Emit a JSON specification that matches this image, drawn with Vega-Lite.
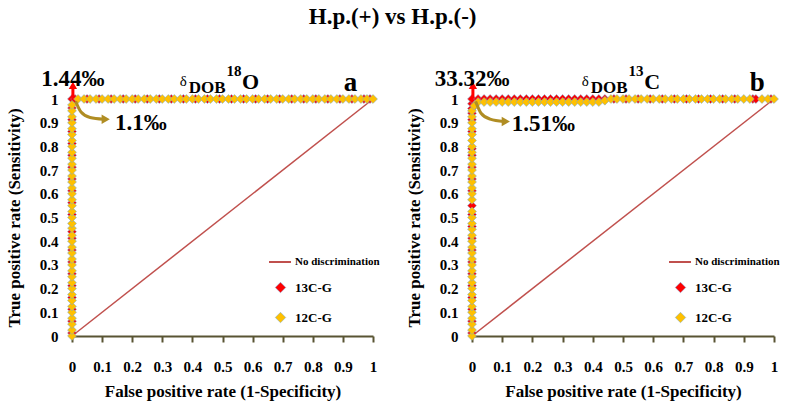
{
  "$schema": "https://vega.github.io/schema/vega-lite/v6.json",
  "padding": {"left": 5, "top": 6, "right": 2, "bottom": 3},
  "title": {"text": "H.p.(+) vs H.p.(-)", "fontSize": 23, "font": "Liberation Serif", "fontWeight": "bold", "color": "#000", "anchor": "middle", "offset": 35},
  "config": {
    "font": "Liberation Serif",
    "view": {"stroke": null},
    "axis": {"grid": false, "labelFont": "Liberation Serif", "labelFontWeight": "bold", "labelFontSize": 15, "labelColor": "#000", "titleFont": "Liberation Serif", "titleFontWeight": "bold", "titleFontSize": 17, "titleColor": "#000", "labelFlush": false, "labelOverlap": false},
    "legend": {"labelFont": "Liberation Serif", "labelFontWeight": "bold", "labelFontSize": 13, "labelColor": "#000"}
  },
  "datasets": {
    "a13": [{"x":0,"y":0.0125},{"x":0,"y":0.0625},{"x":0,"y":0.1125},{"x":0,"y":0.1625},{"x":0,"y":0.2125},{"x":0,"y":0.2625},{"x":0,"y":0.3125},{"x":0,"y":0.3625},{"x":0,"y":0.4125},{"x":0,"y":0.44},{"x":0,"y":0.5125},{"x":0,"y":0.5625},{"x":0,"y":0.6125},{"x":0,"y":0.6625},{"x":0,"y":0.7125},{"x":0,"y":0.7625},{"x":0,"y":0.8125},{"x":0,"y":0.8625},{"x":0,"y":0.9125},{"x":0,"y":0.9625},{"x":0,"y":1},{"x":0.01,"y":1},{"x":0.05,"y":1},{"x":0.09,"y":1},{"x":0.13,"y":1},{"x":0.17,"y":1},{"x":0.21,"y":1},{"x":0.25,"y":1},{"x":0.29,"y":1},{"x":0.33,"y":1},{"x":0.37,"y":1},{"x":0.41,"y":1},{"x":0.45,"y":1},{"x":0.49,"y":1},{"x":0.53,"y":1},{"x":0.57,"y":1},{"x":0.61,"y":1},{"x":0.65,"y":1},{"x":0.69,"y":1},{"x":0.73,"y":1},{"x":0.77,"y":1},{"x":0.81,"y":1},{"x":0.85,"y":1},{"x":0.89,"y":1},{"x":0.93,"y":1},{"x":0.97,"y":1},{"x":0.99,"y":1}],
    "a12": [{"x":0,"y":0},{"x":0,"y":0.025},{"x":0,"y":0.05},{"x":0,"y":0.075},{"x":0,"y":0.1},{"x":0,"y":0.125},{"x":0,"y":0.15},{"x":0,"y":0.175},{"x":0,"y":0.2},{"x":0,"y":0.225},{"x":0,"y":0.25},{"x":0,"y":0.275},{"x":0,"y":0.3},{"x":0,"y":0.325},{"x":0,"y":0.35},{"x":0,"y":0.375},{"x":0,"y":0.4},{"x":0,"y":0.425},{"x":0,"y":0.455},{"x":0,"y":0.475},{"x":0,"y":0.5},{"x":0,"y":0.525},{"x":0,"y":0.55},{"x":0,"y":0.575},{"x":0,"y":0.6},{"x":0,"y":0.625},{"x":0,"y":0.65},{"x":0,"y":0.675},{"x":0,"y":0.7},{"x":0,"y":0.725},{"x":0,"y":0.75},{"x":0,"y":0.775},{"x":0,"y":0.8},{"x":0,"y":0.825},{"x":0,"y":0.85},{"x":0,"y":0.875},{"x":0,"y":0.9},{"x":0,"y":0.925},{"x":0,"y":0.95},{"x":0,"y":0.975},{"x":0.02,"y":1},{"x":0.04,"y":1},{"x":0.06,"y":1},{"x":0.08,"y":1},{"x":0.1,"y":1},{"x":0.12,"y":1},{"x":0.14,"y":1},{"x":0.16,"y":1},{"x":0.18,"y":1},{"x":0.2,"y":1},{"x":0.22,"y":1},{"x":0.24,"y":1},{"x":0.26,"y":1},{"x":0.28,"y":1},{"x":0.3,"y":1},{"x":0.32,"y":1},{"x":0.34,"y":1},{"x":0.36,"y":1},{"x":0.38,"y":1},{"x":0.4,"y":1},{"x":0.42,"y":1},{"x":0.44,"y":1},{"x":0.46,"y":1},{"x":0.48,"y":1},{"x":0.5,"y":1},{"x":0.52,"y":1},{"x":0.54,"y":1},{"x":0.56,"y":1},{"x":0.58,"y":1},{"x":0.6,"y":1},{"x":0.62,"y":1},{"x":0.64,"y":1},{"x":0.66,"y":1},{"x":0.68,"y":1},{"x":0.7,"y":1},{"x":0.72,"y":1},{"x":0.74,"y":1},{"x":0.76,"y":1},{"x":0.78,"y":1},{"x":0.8,"y":1},{"x":0.82,"y":1},{"x":0.84,"y":1},{"x":0.86,"y":1},{"x":0.88,"y":1},{"x":0.9,"y":1},{"x":0.92,"y":1},{"x":0.94,"y":1},{"x":0.96,"y":1},{"x":0.98,"y":1},{"x":1,"y":1}],
    "b13": [{"x":0,"y":0.0125},{"x":0,"y":0.0625},{"x":0,"y":0.1125},{"x":0,"y":0.1625},{"x":0,"y":0.2125},{"x":0,"y":0.2625},{"x":0,"y":0.3125},{"x":0,"y":0.3625},{"x":0,"y":0.4125},{"x":0,"y":0.4625},{"x":0,"y":0.5125},{"x":0,"y":0.55},{"x":0,"y":0.6125},{"x":0,"y":0.6625},{"x":0,"y":0.7125},{"x":0,"y":0.7625},{"x":0,"y":0.79},{"x":0,"y":0.8625},{"x":0,"y":0.9125},{"x":0,"y":0.94},{"x":0,"y":0.96},{"x":0,"y":0.98},{"x":0,"y":1},{"x":0.02,"y":1},{"x":0.04,"y":1},{"x":0.06,"y":1},{"x":0.08,"y":1},{"x":0.1,"y":1},{"x":0.12,"y":1},{"x":0.14,"y":1},{"x":0.16,"y":1},{"x":0.18,"y":1},{"x":0.2,"y":1},{"x":0.22,"y":1},{"x":0.24,"y":1},{"x":0.26,"y":1},{"x":0.28,"y":1},{"x":0.3,"y":1},{"x":0.32,"y":1},{"x":0.34,"y":1},{"x":0.36,"y":1},{"x":0.38,"y":1},{"x":0.4,"y":1},{"x":0.42,"y":1},{"x":0.44,"y":1},{"x":0.47,"y":1},{"x":0.51,"y":1},{"x":0.55,"y":1},{"x":0.59,"y":1},{"x":0.63,"y":1},{"x":0.67,"y":1},{"x":0.71,"y":1},{"x":0.75,"y":1},{"x":0.79,"y":1},{"x":0.83,"y":1},{"x":0.87,"y":1},{"x":0.93,"y":1},{"x":0.94,"y":1},{"x":0.99,"y":1}],
    "b12": [{"x":0,"y":0},{"x":0,"y":0.025},{"x":0,"y":0.05},{"x":0,"y":0.075},{"x":0,"y":0.1},{"x":0,"y":0.125},{"x":0,"y":0.15},{"x":0,"y":0.175},{"x":0,"y":0.2},{"x":0,"y":0.225},{"x":0,"y":0.25},{"x":0,"y":0.275},{"x":0,"y":0.3},{"x":0,"y":0.325},{"x":0,"y":0.35},{"x":0,"y":0.375},{"x":0,"y":0.4},{"x":0,"y":0.425},{"x":0,"y":0.45},{"x":0,"y":0.475},{"x":0,"y":0.5},{"x":0,"y":0.525},{"x":0,"y":0.575},{"x":0,"y":0.6},{"x":0,"y":0.625},{"x":0,"y":0.65},{"x":0,"y":0.675},{"x":0,"y":0.7},{"x":0,"y":0.725},{"x":0,"y":0.75},{"x":0,"y":0.775},{"x":0,"y":0.8},{"x":0,"y":0.825},{"x":0,"y":0.85},{"x":0,"y":0.875},{"x":0,"y":0.9},{"x":0,"y":0.925},{"x":0,"y":0.95},{"x":0.008,"y":0.972},{"x":0.02,"y":0.987},{"x":0.04,"y":0.987},{"x":0.06,"y":0.987},{"x":0.08,"y":0.987},{"x":0.1,"y":0.987},{"x":0.12,"y":0.987},{"x":0.14,"y":0.987},{"x":0.16,"y":0.987},{"x":0.18,"y":0.987},{"x":0.2,"y":0.987},{"x":0.22,"y":0.987},{"x":0.24,"y":0.987},{"x":0.26,"y":0.987},{"x":0.28,"y":0.987},{"x":0.3,"y":0.987},{"x":0.32,"y":0.987},{"x":0.34,"y":0.987},{"x":0.36,"y":0.987},{"x":0.38,"y":0.987},{"x":0.4,"y":0.987},{"x":0.42,"y":0.987},{"x":0.44,"y":0.993},{"x":0.46,"y":1},{"x":0.48,"y":1},{"x":0.5,"y":1},{"x":0.52,"y":1},{"x":0.54,"y":1},{"x":0.56,"y":1},{"x":0.58,"y":1},{"x":0.6,"y":1},{"x":0.62,"y":1},{"x":0.64,"y":1},{"x":0.66,"y":1},{"x":0.68,"y":1},{"x":0.7,"y":1},{"x":0.72,"y":1},{"x":0.74,"y":1},{"x":0.76,"y":1},{"x":0.78,"y":1},{"x":0.8,"y":1},{"x":0.82,"y":1},{"x":0.84,"y":1},{"x":0.86,"y":1},{"x":0.88,"y":1},{"x":0.9,"y":1},{"x":0.92,"y":1},{"x":0.96,"y":1},{"x":0.98,"y":1},{"x":1,"y":1}]
  },
  "spacing": 25,
  "resolve": {"scale": {"x": "independent", "y": "independent", "stroke": "independent", "fill": "independent"}, "legend": {"stroke": "independent", "fill": "independent"}},
  "hconcat": [
    {
      "width": 301, "height": 237,
      "encoding": {
        "x": {"field": "x", "type": "quantitative", "scale": {"domain": [0, 1], "nice": false},
          "axis": {"title": "False positive rate (1-Specificity)", "values": [0,0.1,0.2,0.3,0.4,0.5,0.6,0.7,0.8,0.9,1], "format": ".1~f", "domainColor": "#595433", "domainWidth": 2, "tickColor": "#595433", "tickWidth": 2, "tickSize": 6, "labelPadding": 17, "titlePadding": 9}},
        "y": {"field": "y", "type": "quantitative", "scale": {"domain": [0, 1], "nice": false},
          "axis": {"title": "True positive rate (Sensitivity)", "values": [0,0.1,0.2,0.3,0.4,0.5,0.6,0.7,0.8,0.9,1], "format": ".1~f", "domainColor": "#595433", "ticks": false, "labelPadding": 14, "titlePadding": 16}}
      },
      "layer": [
        {"data": {"values": [{"x": 0, "y": 0}, {"x": 1, "y": 1}]}, "mark": {"type": "line", "strokeWidth": 1.5},
          "encoding": {"stroke": {"datum": "No discrimination", "type": "nominal", "scale": {"domain": ["No discrimination"], "range": ["#c0504d"]},
            "legend": {"orient": "none", "legendX": 196, "legendY": 151, "title": null, "symbolType": "stroke", "symbolSize": 484, "symbolStrokeWidth": 2, "labelOffset": 3, "labelFontSize": 11}}}},
        {"data": {"name": "a13"}, "mark": {"type": "point", "shape": "diamond", "filled": true, "size": 80, "stroke": "#6fa8dc", "strokeWidth": 0.5, "opacity": 1},
          "encoding": {"fill": {"datum": "13C-G", "type": "nominal", "scale": {"domain": ["13C-G", "12C-G"], "range": ["#ff0000", "#ffc000"]},
            "legend": {"orient": "none", "legendX": 202, "legendY": 182, "title": null, "symbolType": "diamond", "symbolSize": 110, "rowPadding": 16, "labelOffset": 8, "symbolStrokeColor": "#6fa8dc", "symbolStrokeWidth": 0.5}}}},
        {"data": {"name": "a12"}, "mark": {"type": "point", "shape": "diamond", "filled": true, "size": 80, "stroke": "#6fa8dc", "strokeWidth": 0.5, "opacity": 1},
          "encoding": {"fill": {"datum": "12C-G", "type": "nominal"}}},
        {"data": {"values": [{"x": 0.003, "y": 1.005, "y2": 1.05}]}, "mark": {"type": "rule", "color": "#ff0000", "strokeWidth": 3}, "encoding": {"y2": {"field": "y2"}}},
        {"data": {"values": [{"x": 0.003, "y": 1.058}]}, "mark": {"type": "point", "shape": "triangle-up", "filled": true, "size": 70, "color": "#ff0000", "opacity": 1}, "encoding": {}},
        {"data": {"values": [{"x": 0.012, "y": 0.99}, {"x": 0.03, "y": 0.945}, {"x": 0.06, "y": 0.922}, {"x": 0.105, "y": 0.915}]}, "mark": {"type": "line", "color": "#b08d23", "strokeWidth": 3, "interpolate": "monotone"}, "encoding": {}},
        {"data": {"values": [{"x": 0.112, "y": 0.915}]}, "mark": {"type": "point", "shape": "triangle-right", "filled": true, "size": 90, "color": "#b08d23", "opacity": 1}, "encoding": {}},
        {"data": {"values": [{"t": "1.1‰", "x": 0.143, "y": 0.9}]}, "mark": {"type": "text", "fontSize": 23, "fontWeight": "bold", "align": "left", "baseline": "middle", "color": "#000"}, "encoding": {"text": {"field": "t"}}},
        {"data": {"values": [{"t": "1.44‰", "x": 0.003, "y": 1.085}]}, "mark": {"type": "text", "fontSize": 23, "fontWeight": "bold", "align": "center", "baseline": "middle", "color": "#000"}, "encoding": {"text": {"field": "t"}}},
        {"data": {"values": [{"t": "δ", "x": 0.37, "y": 1.078}]}, "mark": {"type": "text", "fontSize": 15, "align": "center", "baseline": "middle", "color": "#000"}, "encoding": {"text": {"field": "t"}}},
        {"data": {"values": [{"t": "DOB", "x": 0.388, "y": 1.045}]}, "mark": {"type": "text", "fontSize": 17, "fontWeight": "bold", "align": "left", "baseline": "middle", "color": "#000"}, "encoding": {"text": {"field": "t"}}},
        {"data": {"values": [{"t": "18", "x": 0.513, "y": 1.118}]}, "mark": {"type": "text", "fontSize": 15, "fontWeight": "bold", "align": "left", "baseline": "middle", "color": "#000"}, "encoding": {"text": {"field": "t"}}},
        {"data": {"values": [{"t": "O", "x": 0.565, "y": 1.073}]}, "mark": {"type": "text", "fontSize": 22, "fontWeight": "bold", "align": "left", "baseline": "middle", "color": "#000"}, "encoding": {"text": {"field": "t"}}},
        {"data": {"values": [{"t": "a", "x": 0.925, "y": 1.068}]}, "mark": {"type": "text", "fontSize": 27, "fontWeight": "bold", "align": "center", "baseline": "middle", "color": "#000"}, "encoding": {"text": {"field": "t"}}}
      ]
    },
    {
      "width": 302, "height": 237,
      "encoding": {
        "x": {"field": "x", "type": "quantitative", "scale": {"domain": [0, 1], "nice": false},
          "axis": {"title": "False positive rate (1-Specificity)", "values": [0,0.1,0.2,0.3,0.4,0.5,0.6,0.7,0.8,0.9,1], "format": ".1~f", "domainColor": "#595433", "domainWidth": 2, "tickColor": "#595433", "tickWidth": 2, "tickSize": 6, "labelPadding": 17, "titlePadding": 9}},
        "y": {"field": "y", "type": "quantitative", "scale": {"domain": [0, 1], "nice": false},
          "axis": {"title": "True positive rate (Sensitivity)", "values": [0,0.1,0.2,0.3,0.4,0.5,0.6,0.7,0.8,0.9,1], "format": ".1~f", "domainColor": "#595433", "ticks": false, "labelPadding": 14, "titlePadding": 16}}
      },
      "layer": [
        {"data": {"values": [{"x": 0, "y": 0}, {"x": 1, "y": 1}]}, "mark": {"type": "line", "strokeWidth": 1.5},
          "encoding": {"stroke": {"datum": "No discrimination", "type": "nominal", "scale": {"domain": ["No discrimination"], "range": ["#c0504d"]},
            "legend": {"orient": "none", "legendX": 196, "legendY": 151, "title": null, "symbolType": "stroke", "symbolSize": 484, "symbolStrokeWidth": 2, "labelOffset": 3, "labelFontSize": 11}}}},
        {"data": {"name": "b13"}, "mark": {"type": "point", "shape": "diamond", "filled": true, "size": 80, "stroke": "#6fa8dc", "strokeWidth": 0.5, "opacity": 1},
          "encoding": {"fill": {"datum": "13C-G", "type": "nominal", "scale": {"domain": ["13C-G", "12C-G"], "range": ["#ff0000", "#ffc000"]},
            "legend": {"orient": "none", "legendX": 202, "legendY": 182, "title": null, "symbolType": "diamond", "symbolSize": 110, "rowPadding": 16, "labelOffset": 8, "symbolStrokeColor": "#6fa8dc", "symbolStrokeWidth": 0.5}}}},
        {"data": {"name": "b12"}, "mark": {"type": "point", "shape": "diamond", "filled": true, "size": 80, "stroke": "#6fa8dc", "strokeWidth": 0.5, "opacity": 1},
          "encoding": {"fill": {"datum": "12C-G", "type": "nominal"}}},
        {"data": {"values": [{"x": 0.003, "y": 1.005, "y2": 1.05}]}, "mark": {"type": "rule", "color": "#ff0000", "strokeWidth": 3}, "encoding": {"y2": {"field": "y2"}}},
        {"data": {"values": [{"x": 0.003, "y": 1.058}]}, "mark": {"type": "point", "shape": "triangle-up", "filled": true, "size": 70, "color": "#ff0000", "opacity": 1}, "encoding": {}},
        {"data": {"values": [{"x": 0.012, "y": 0.99}, {"x": 0.03, "y": 0.94}, {"x": 0.06, "y": 0.915}, {"x": 0.105, "y": 0.905}]}, "mark": {"type": "line", "color": "#b08d23", "strokeWidth": 3, "interpolate": "monotone"}, "encoding": {}},
        {"data": {"values": [{"x": 0.112, "y": 0.905}]}, "mark": {"type": "point", "shape": "triangle-right", "filled": true, "size": 90, "color": "#b08d23", "opacity": 1}, "encoding": {}},
        {"data": {"values": [{"t": "1.51‰", "x": 0.132, "y": 0.893}]}, "mark": {"type": "text", "fontSize": 23, "fontWeight": "bold", "align": "left", "baseline": "middle", "color": "#000"}, "encoding": {"text": {"field": "t"}}},
        {"data": {"values": [{"t": "33.32‰", "x": 0.0, "y": 1.085}]}, "mark": {"type": "text", "fontSize": 23, "fontWeight": "bold", "align": "center", "baseline": "middle", "color": "#000"}, "encoding": {"text": {"field": "t"}}},
        {"data": {"values": [{"t": "δ", "x": 0.375, "y": 1.078}]}, "mark": {"type": "text", "fontSize": 15, "align": "center", "baseline": "middle", "color": "#000"}, "encoding": {"text": {"field": "t"}}},
        {"data": {"values": [{"t": "DOB", "x": 0.393, "y": 1.045}]}, "mark": {"type": "text", "fontSize": 17, "fontWeight": "bold", "align": "left", "baseline": "middle", "color": "#000"}, "encoding": {"text": {"field": "t"}}},
        {"data": {"values": [{"t": "13", "x": 0.518, "y": 1.118}]}, "mark": {"type": "text", "fontSize": 15, "fontWeight": "bold", "align": "left", "baseline": "middle", "color": "#000"}, "encoding": {"text": {"field": "t"}}},
        {"data": {"values": [{"t": "C", "x": 0.57, "y": 1.073}]}, "mark": {"type": "text", "fontSize": 22, "fontWeight": "bold", "align": "left", "baseline": "middle", "color": "#000"}, "encoding": {"text": {"field": "t"}}},
        {"data": {"values": [{"t": "b", "x": 0.945, "y": 1.068}]}, "mark": {"type": "text", "fontSize": 27, "fontWeight": "bold", "align": "center", "baseline": "middle", "color": "#000"}, "encoding": {"text": {"field": "t"}}}
      ]
    }
  ]
}
